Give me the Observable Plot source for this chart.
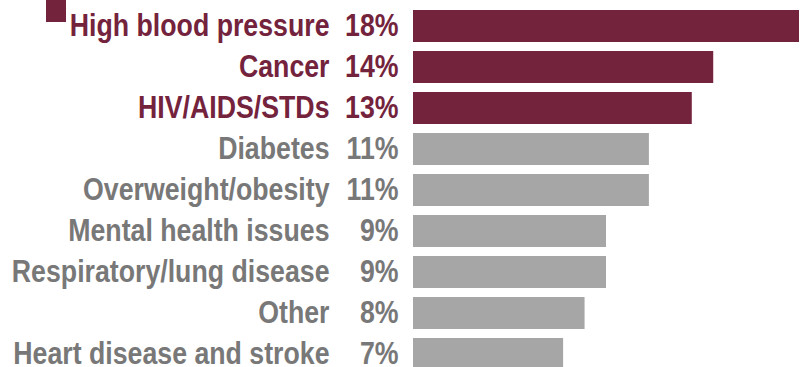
<!DOCTYPE html>
<html>
<head>
<meta charset="utf-8">
<script src="https://cdn.jsdelivr.net/npm/d3@7"></script>
<script src="https://cdn.jsdelivr.net/npm/@observablehq/plot@0.6"></script>
<style>
  html, body { margin: 0; padding: 0; background: #fff; overflow: hidden; }
  #wrap { position: relative; width: 809px; height: 367px; }
  #marker { position: absolute; left: 46px; top: 0; width: 20px; height: 22px; background: #74233d; }
  svg { overflow: visible; }
</style>
</head>
<body>
<div id="wrap"><div id="marker"></div><div id="chart"></div></div>
<script>
const categories = [
  "High blood pressure", "Cancer", "HIV/AIDS/STDs", "Diabetes",
  "Overweight/obesity", "Mental health issues", "Respiratory/lung disease",
  "Other", "Heart disease and stroke"
];
const values = [18, 14, 13, 11, 11, 9, 9, 8, 7];
const highlighted = [true, true, true, false, false, false, false, false, false];

const data = categories.map((c, i) => ({category: c, value: values[i], hi: highlighted[i]}));

const maroon = "#74233d";
const grayBar = "#a6a6a6";
const grayText = "#787878";
const font = "'Liberation Sans', Arial, sans-serif";

const chart = Plot.plot({
  width: 809,
  height: 367,
  marginLeft: 413,
  marginRight: 10,
  marginTop: 0,
  marginBottom: 0,
  style: {fontFamily: font, overflow: "visible"},
  x: {domain: [0, 18], axis: null},
  y: {domain: categories, range: [10, 370], paddingInner: 0.23, paddingOuter: 0, axis: null},
  marks: [
    Plot.barX(data, {x: "value", y: "category", fill: d => d.hi ? maroon : grayBar}),
    Plot.text(data, {
      x: 0, y: "category", text: "category", textAnchor: "end", dx: -84, dy: -1,
      fill: d => d.hi ? maroon : grayText, fontSize: 32, fontWeight: "bold"
    }),
    Plot.text(data, {
      x: 0, y: "category", text: d => `${d.value}%`, textAnchor: "end", dx: -15, dy: -1,
      fill: d => d.hi ? maroon : grayText, fontSize: 32, fontWeight: "bold"
    })
  ]
});
// condense the glyphs horizontally (narrow face not installed)
chart.querySelectorAll("text").forEach(t => {
  t.setAttribute("transform", (t.getAttribute("transform") || "") + " scale(0.835,1)");
});
document.getElementById("chart").appendChild(chart);
</script>
</body>
</html>
